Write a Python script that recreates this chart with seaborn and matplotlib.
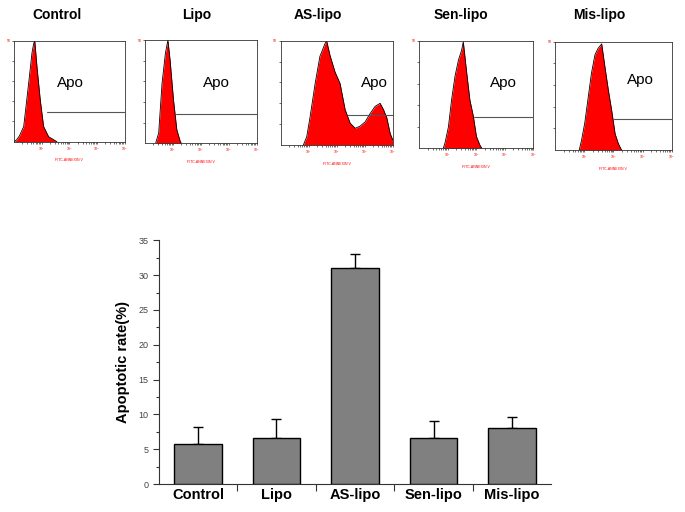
import numpy as np
import pandas as pd
import seaborn as sns
import matplotlib.pyplot as plt
from matplotlib.ticker import MultipleLocator, FixedLocator, NullFormatter

# bar chart data
groups = ['Control', 'Lipo', 'AS-lipo', 'Sen-lipo', 'Mis-lipo']
rates = [5.8, 6.65, 31.0, 6.55, 8.0]
errs = [2.45, 2.65, 2.1, 2.55, 1.6]

# flow histograms: log10(FITC) position and relative height, per panel
ctrl_x = [0.0, 0.1, 0.2, 0.35, 0.53, 0.65, 0.71, 0.75, 0.83, 0.95, 1.07, 1.25, 1.43, 1.55]
ctrl_y = [0.0, 0.02, 0.06, 0.15, 0.58, 0.88, 0.97, 1.0, 0.74, 0.41, 0.15, 0.05, 0.02, 0.0]
lipo_x = [0.38, 0.49, 0.61, 0.73, 0.82, 0.9, 1.02, 1.14, 1.26, 1.3]
lipo_y = [0.0, 0.1, 0.58, 0.87, 1.0, 0.8, 0.42, 0.13, 0.02, 0.0]
as_x = [0.81, 0.93, 1.05, 1.23, 1.4, 1.58, 1.64, 1.76, 1.94, 2.12, 2.3, 2.48, 2.66,
        2.83, 3.01, 3.19, 3.37, 3.55, 3.67, 3.79, 3.91, 4.0]
as_y = [0.0, 0.08, 0.27, 0.59, 0.85, 0.97, 1.0, 0.86, 0.7, 0.59, 0.34, 0.21, 0.16,
        0.18, 0.22, 0.3, 0.37, 0.4, 0.34, 0.26, 0.11, 0.05]
sen_x = [0.85, 0.91, 1.03, 1.14, 1.26, 1.38, 1.49, 1.55, 1.67, 1.78, 1.9, 2.01, 2.13, 2.2]
sen_y = [0.0, 0.05, 0.2, 0.45, 0.67, 0.82, 0.91, 0.99, 0.7, 0.45, 0.3, 0.11, 0.03, 0.0]
mis_x = [0.83, 0.91, 1.02, 1.14, 1.25, 1.37, 1.48, 1.6, 1.71, 1.83, 1.94, 2.06, 2.17, 2.28]
mis_y = [0.0, 0.09, 0.25, 0.49, 0.71, 0.88, 0.94, 0.98, 0.77, 0.55, 0.37, 0.15, 0.06, 0.0]
gate_start = [1.19, 1.1, 2.4, 1.93, 1.98]
gate_level = [0.29, 0.28, 0.29, 0.29, 0.29]

hist_x = [ctrl_x, lipo_x, as_x, sen_x, mis_x]
hist_y = [ctrl_y, lipo_y, as_y, sen_y, mis_y]

sns.set_style('ticks')
plt.rcParams['font.family'] = ['Liberation Sans', 'DejaVu Sans']
plt.rcParams['text.color'] = 'black'
plt.rcParams['axes.labelcolor'] = 'black'
plt.rcParams['xtick.color'] = 'black'
plt.rcParams['ytick.color'] = 'black'

W, H = 685, 512
fig = plt.figure(figsize=(6.85, 5.12), dpi=100)

def px_axes(l, t, r, b):
    return fig.add_axes([l / W, 1 - b / H, (r - l) / W, (b - t) / H])

# top row of flow panels
boxes = [(14, 40.7, 124.7, 141.7), (145, 40, 256.7, 143.3), (280.7, 40.7, 392.7, 145),
         (419, 40.7, 533.3, 148.3), (555, 41.7, 671.7, 150)]
title_x = [57, 197, 318, 461, 599]
apo_pos = [(0.39, 0.58), (0.52, 0.58), (0.72, 0.59), (0.62, 0.61), (0.62, 0.65)]

for i, g in enumerate(groups):
    ax = px_axes(*boxes[i])
    xs = np.power(10.0, hist_x[i])
    df = pd.DataFrame({'x': xs, 'y': hist_y[i]})
    ax.fill_between(df['x'], 0, df['y'], color='#ff0000', lw=0)
    sns.lineplot(data=df, x='x', y='y', ax=ax, color='black', lw=0.6)
    ax.plot([10 ** gate_start[i], 1e4], [gate_level[i]] * 2, color='#555555', lw=0.8)
    ax.set_xscale('log')
    ax.set_xlim(1, 1e4)
    ax.set_ylim(0, 1.0)
    for s in ax.spines.values():
        s.set_linewidth(0.6)
        s.set_color('#333333')
    ax.tick_params(axis='both', which='both', direction='out', length=1.5, width=0.4,
                   labelsize=2.5, labelcolor='red', pad=1)
    ax.set_xticks([10, 100, 1000, 10000])
    ax.set_xticklabels(['10$^1$', '10$^2$', '10$^3$', '10$^4$'])
    ax.set_yticks([0.2, 0.4, 0.6, 0.8, 1.0])
    ax.set_yticklabels(['', '', '', '', '50'])
    ax.set_xlabel('FITC-ANNEXIN V', fontsize=2.5, color='red', labelpad=4)
    ax.set_ylabel('')
    ax.text(apo_pos[i][0], apo_pos[i][1], 'Apo', transform=ax.transAxes,
            fontsize=11, va='center', ha='left')
    fig.text(title_x[i] / W, 1 - 15 / H, g, ha='center', va='center',
             fontsize=10, fontweight='bold')

# bar chart
bx = px_axes(158.7, 240.3, 551.3, 484)
bar_df = pd.DataFrame({'group': groups, 'rate': rates})
sns.barplot(data=bar_df, x='group', y='rate', color='#808080', saturation=1,
            edgecolor='black', linewidth=1, width=0.6, ax=bx, zorder=3)
bx.errorbar(range(len(groups)), rates, yerr=[np.zeros(len(errs)), errs], fmt='none',
            ecolor='black', elinewidth=1, capsize=3.5, capthick=1, zorder=2)
bx.set_xlim(-0.5, 4.5)
bx.set_ylim(0, 35)
bx.yaxis.set_major_locator(MultipleLocator(5))
bx.yaxis.set_minor_locator(MultipleLocator(2.5))
bx.xaxis.set_minor_locator(FixedLocator([0.5, 1.5, 2.5, 3.5]))
bx.xaxis.set_minor_formatter(NullFormatter())
bx.tick_params(axis='x', which='major', length=0, labelsize=10.5, pad=3)
bx.tick_params(axis='x', which='minor', length=5, width=0.8, color='#333333')
bx.tick_params(axis='y', which='major', length=4, width=0.8, labelsize=6.5,
               labelcolor='#444444', color='#333333')
bx.tick_params(axis='y', which='minor', length=2.5, width=0.8, color='#333333')
for lab in bx.get_xticklabels():
    lab.set_fontweight('bold')
bx.set_xlabel('')
bx.set_ylabel('Apoptotic rate(%)', fontsize=10.5, fontweight='bold', labelpad=6)
sns.despine(ax=bx)
for s in ['left', 'bottom']:
    bx.spines[s].set_linewidth(0.8)
    bx.spines[s].set_color('#333333')

fig.savefig('out.png', dpi=100)
